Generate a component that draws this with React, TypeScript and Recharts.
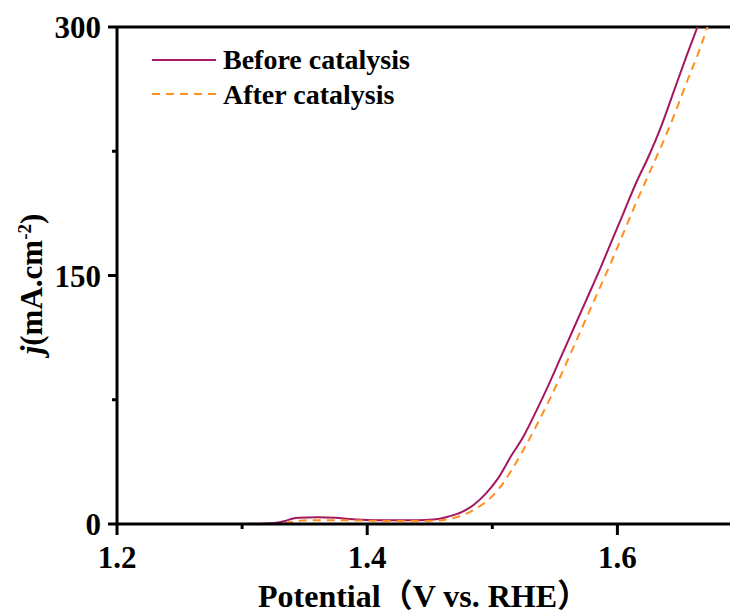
import { LineChart, Line, XAxis, YAxis, ReferenceLine } from "recharts";

const SOLID = "#A3185F";
const DASHED = "#FF8F1F";
const FONT = "'Liberation Serif', 'Times New Roman', serif";
const CJK = "'Noto Sans CJK SC', sans-serif";

// polarisation curves, potential in V vs. RHE, j in mA/cm2
const beforeV = [
  1.2, 1.25, 1.3, 1.32, 1.33, 1.335, 1.34, 1.345, 1.36, 1.375, 1.385, 1.4, 1.42, 1.44, 1.455,
  1.465, 1.475, 1.485, 1.495, 1.505, 1.515, 1.525, 1.535, 1.545, 1.555, 1.565, 1.575, 1.585,
  1.595, 1.605, 1.615, 1.625, 1.635, 1.645, 1.655, 1.664,
];
const beforeJ = [
  0, 0, 0, 0.3, 1.0, 2.0, 3.2, 3.8, 4.0, 3.8, 3.0, 2.4, 2.2, 2.2, 2.8,
  4.5, 7.0, 11.5, 18.5, 28, 41, 53, 68, 84, 101, 118, 135, 152,
  170, 188, 206, 222, 240, 261, 282, 300,
];

const afterV = [
  1.2, 1.3, 1.33, 1.338, 1.345, 1.36, 1.38, 1.4, 1.42, 1.44, 1.455, 1.465, 1.475, 1.485,
  1.495, 1.505, 1.515, 1.525, 1.535, 1.545, 1.555, 1.565, 1.575, 1.585, 1.595, 1.605, 1.615,
  1.625, 1.635, 1.645, 1.655, 1.665, 1.672,
];
const afterJ = [
  0, 0, 0, 1.0, 2.0, 2.3, 2.3, 2.0, 1.8, 1.8, 2.0, 3.0, 5.0, 8.5,
  13.5, 21, 32, 45, 59, 74, 90, 107, 124, 141, 158, 176, 194,
  211, 228, 246, 266, 285, 300,
];

const xTicks = [1.2, 1.3, 1.4, 1.5, 1.6];
const xLabels = [1.2, 1.4, 1.6];
const yTicks = [0, 75, 150, 225, 300];
const yLabels = [0, 150, 300];

const toRows = (vs: number[], js: number[]) => vs.map((v, i) => ({ v, j: js[i] }));
const beforeData = toRows(beforeV, beforeJ);
const afterData = toRows(afterV, afterJ);

const XTick = (props: any) => {
  const { x, y, payload } = props;
  const major = xLabels.some((t) => Math.abs(t - payload.value) < 1e-6);
  return (
    <g>
      <line x1={x} x2={x} y1={y} y2={y + (major ? 11 : 5)} stroke="#000" strokeWidth={3} />
      {major && (
        <text x={x} y={y + 44} textAnchor="middle" fontFamily={FONT} fontWeight="bold" fontSize={31} fill="#000">
          {payload.value.toFixed(1)}
        </text>
      )}
    </g>
  );
};

const YTick = (props: any) => {
  const { x, y, payload } = props;
  const major = yLabels.includes(payload.value);
  return (
    <g>
      <line x1={x} x2={x - (major ? 9 : 5)} y1={y} y2={y} stroke="#000" strokeWidth={3} />
      {major && (
        <text x={x - 16} y={y + 11} textAnchor="end" fontFamily={FONT} fontWeight="bold" fontSize={31} fill="#000">
          {payload.value}
        </text>
      )}
    </g>
  );
};

// legend drawn as an overlay in the upper-left corner of the plot
const LegendBox = () => (
  <svg width={320} height={80} style={{ position: "absolute", left: 117, top: 44 }}>
    <line x1={35} x2={99} y1={16} y2={16} stroke={SOLID} strokeWidth={2} />
    <text x={106} y={25} fontFamily={FONT} fontWeight="bold" fontSize={28} fill="#000">
      Before catalysis
    </text>
    <line x1={35} x2={99} y1={50} y2={50} stroke={DASHED} strokeWidth={2} strokeDasharray="8 6" />
    <text x={106} y={60} fontFamily={FONT} fontWeight="bold" fontSize={28} fill="#000">
      After catalysis
    </text>
  </svg>
);

export default function App() {
  return (
    <div style={{ position: "absolute", left: 0, top: 0, width: 732, height: 615, background: "#fff" }}>
      <LineChart width={732} height={615} margin={{ top: 27, right: 2, bottom: 0, left: 0 }}>
        <XAxis
          type="number"
          dataKey="v"
          domain={[1.2, 1.69]}
          ticks={xTicks}
          allowDataOverflow
          height={91}
          tickSize={0}
          tickMargin={0}
          tick={<XTick />}
          axisLine={{ stroke: "#000", strokeWidth: 3 }}
          label={{
            content: () => (
              <text x={258} y={607} fontFamily={FONT} fontWeight="bold" fontSize={32} fill="#000">
                <tspan>Potential</tspan>
                <tspan fontFamily={CJK}>（</tspan>
                <tspan>V vs. RHE</tspan>
                <tspan fontFamily={CJK}>）</tspan>
              </text>
            ),
          }}
        />
        <YAxis
          type="number"
          domain={[0, 300]}
          ticks={yTicks}
          allowDataOverflow
          width={117}
          tickSize={0}
          tickMargin={0}
          tick={<YTick />}
          axisLine={{ stroke: "#000", strokeWidth: 3 }}
          label={{
            content: () => (
              <text
                transform="rotate(-90, 42, 284)"
                x={42}
                y={284}
                textAnchor="middle"
                fontFamily={FONT}
                fontWeight="bold"
                fontSize={31}
                fill="#000"
              >
                <tspan fontStyle="italic">j</tspan>
                <tspan>(mA.cm</tspan>
                <tspan dy={-11} fontSize={19}>-2</tspan>
                <tspan dy={11}>)</tspan>
              </text>
            ),
          }}
        />
        <ReferenceLine y={300} stroke="#000" strokeWidth={3} />
        <Line
          data={beforeData}
          dataKey="j"
          name="Before catalysis"
          type="monotone"
          stroke={SOLID}
          strokeWidth={2}
          dot={false}
          isAnimationActive={false}
        />
        <Line
          data={afterData}
          dataKey="j"
          name="After catalysis"
          type="monotone"
          stroke={DASHED}
          strokeWidth={2}
          strokeDasharray="8 6"
          dot={false}
          isAnimationActive={false}
        />
      </LineChart>
      <LegendBox />
    </div>
  );
}
